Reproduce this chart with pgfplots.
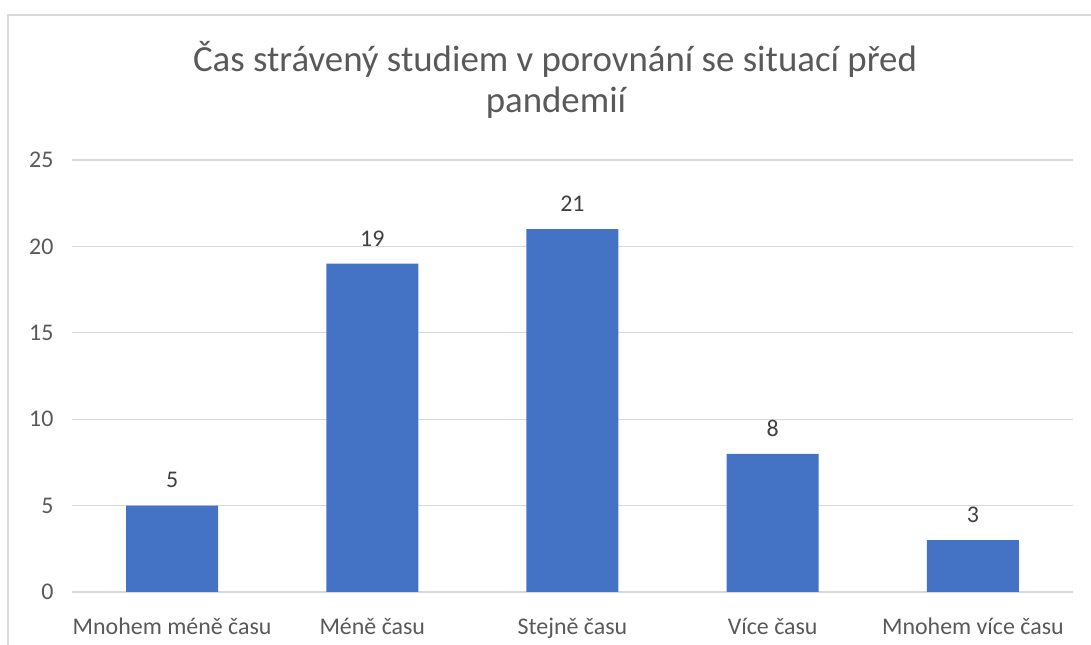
\documentclass[border=0pt]{standalone}
\usepackage{fontspec}
\setmainfont{Carlito}
\usepackage{pgfplots}
\pgfplotsset{compat=1.18}
\definecolor{barblue}{HTML}{4472C4}
\definecolor{gridgray}{HTML}{D9D9D9}
\definecolor{txtgray}{HTML}{595959}
\definecolor{lblgray}{HTML}{404040}
\begin{document}
\begin{tikzpicture}[x=1bp,y=1bp]
\useasboundingbox (0,0) rectangle (1091,645);
\draw[gridgray, line width=1.5bp] (8,-20) -- (8,630) -- (1110,630);
\node[anchor=base, text=txtgray, font=\fontsize{37}{44}\selectfont] at (555,573) {Čas strávený studiem v porovnání se situací před};
\node[anchor=base, text=txtgray, font=\fontsize{37}{44}\selectfont] at (556,532) {pandemií};
\begin{axis}[
  at={(72bp,53bp)}, anchor=south west,
  scale only axis, width=1001bp, height=432bp,
  xmin=-0.5, xmax=4.5, ymin=0, ymax=25,
  ytick={0,5,10,15,20,25},
  xtick={0,1,2,3,4},
  xticklabels={Mnohem méně času, Méně času, Stejně času, Více času, Mnohem více času},
  axis line style={draw=none},
  tick style={draw=none},
  ymajorgrids,
  grid style={gridgray, line width=1.3bp},
  /pgf/number format/assume math mode=true,
  ticklabel style={font=\fontsize{24}{28}\selectfont, text=txtgray},
  xticklabel style={anchor=base, yshift=-38bp},
  yticklabel style={xshift=-15bp},
  ybar, bar width=92bp,
  nodes near coords,
  every node near coord/.append style={font=\fontsize{24}{28}\selectfont, text=lblgray, yshift=14bp},
  clip=false,
]
\addplot[fill=barblue, draw=none] coordinates {(0,5) (1,19) (2,21) (3,8) (4,3)};
\end{axis}
\end{tikzpicture}
\end{document}
